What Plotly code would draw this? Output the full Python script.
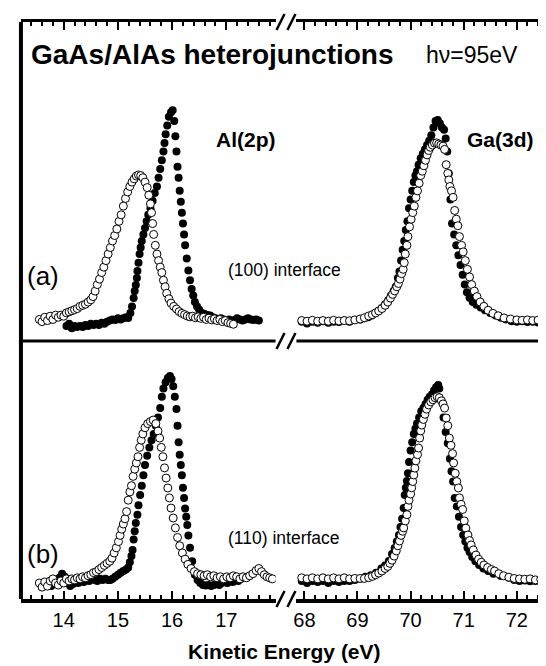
import plotly.graph_objects as go

# ---------------- data: (kinetic energy eV, normalized intensity) ----------------
AL_A_FILLED = [
    (14.05, 0.00), (14.10, 0.01), (14.15, -0.01), (14.20, 0.0), (14.25, -0.005), (14.30, 0.0),
    (14.35, -0.005), (14.40, 0.005), (14.45, 0.0), (14.50, 0.01), (14.55, 0.005), (14.60, 0.01),
    (14.65, 0.005), (14.70, 0.015), (14.75, 0.01), (14.80, 0.02), (14.85, 0.025), (14.90, 0.03),
    (14.95, 0.028), (15.00, 0.035), (15.05, 0.03), (15.10, 0.035), (15.15, 0.04), (15.19, 0.037),
    (15.23, 0.06), (15.26, 0.09), (15.29, 0.128), (15.31, 0.16), (15.33, 0.188), (15.35, 0.22),
    (15.36, 0.252), (15.38, 0.29), (15.40, 0.33), (15.42, 0.36), (15.44, 0.39), (15.47, 0.42),
    (15.50, 0.45), (15.53, 0.48), (15.56, 0.51), (15.60, 0.54), (15.64, 0.575), (15.68, 0.61),
    (15.72, 0.64), (15.75, 0.68), (15.78, 0.72), (15.81, 0.76), (15.84, 0.80), (15.86, 0.84),
    (15.88, 0.88), (15.91, 0.92), (15.94, 0.96), (15.98, 0.98), (16.01, 0.99), (16.04, 0.94),
    (16.06, 0.87), (16.08, 0.80), (16.10, 0.73), (16.12, 0.68), (16.14, 0.62), (16.16, 0.57),
    (16.18, 0.52), (16.20, 0.47), (16.22, 0.42), (16.24, 0.37), (16.27, 0.31), (16.30, 0.255),
    (16.33, 0.21), (16.36, 0.17), (16.39, 0.14), (16.42, 0.11), (16.46, 0.09), (16.50, 0.075),
    (16.55, 0.06), (16.60, 0.055), (16.65, 0.05), (16.70, 0.048), (16.75, 0.04), (16.80, 0.035),
    (16.85, 0.03), (16.90, 0.035), (16.95, 0.03), (17.00, 0.025), (17.05, 0.03), (17.10, 0.02),
    (17.15, 0.028), (17.20, 0.035), (17.25, 0.03), (17.30, 0.025), (17.35, 0.03), (17.40, 0.035),
    (17.45, 0.03), (17.50, 0.028), (17.55, 0.03), (17.60, 0.025),
]
AL_A_OPEN = [
    (13.55, 0.03), (13.60, 0.02), (13.65, 0.04), (13.70, 0.025), (13.75, 0.045), (13.80, 0.03),
    (13.85, 0.05), (13.90, 0.04), (13.95, 0.05), (14.00, 0.045), (14.05, 0.06), (14.10, 0.065),
    (14.15, 0.07), (14.20, 0.075), (14.25, 0.08), (14.30, 0.09), (14.35, 0.095), (14.40, 0.10),
    (14.45, 0.11), (14.50, 0.12), (14.54, 0.135), (14.58, 0.16), (14.62, 0.19), (14.66, 0.215),
    (14.70, 0.245), (14.74, 0.27), (14.78, 0.30), (14.82, 0.33), (14.86, 0.36), (14.90, 0.39),
    (14.94, 0.415), (14.98, 0.445), (15.02, 0.48), (15.06, 0.51), (15.10, 0.55), (15.14, 0.585),
    (15.18, 0.615), (15.22, 0.64), (15.26, 0.66), (15.30, 0.675), (15.34, 0.688), (15.38, 0.693),
    (15.42, 0.69), (15.46, 0.68), (15.50, 0.66), (15.54, 0.635), (15.57, 0.60), (15.60, 0.56),
    (15.62, 0.52), (15.64, 0.47), (15.66, 0.42), (15.69, 0.37), (15.72, 0.33), (15.75, 0.30),
    (15.78, 0.27), (15.81, 0.245), (15.84, 0.21), (15.87, 0.18), (15.90, 0.15), (15.94, 0.125),
    (15.98, 0.105), (16.03, 0.09), (16.08, 0.078), (16.13, 0.066), (16.18, 0.058), (16.23, 0.052),
    (16.28, 0.046), (16.33, 0.042), (16.38, 0.045), (16.43, 0.038), (16.48, 0.042), (16.53, 0.035),
    (16.58, 0.04), (16.63, 0.03), (16.68, 0.036), (16.73, 0.028), (16.78, 0.033), (16.83, 0.025),
    (16.88, 0.03), (16.93, 0.02), (16.98, 0.025), (17.03, 0.015), (17.08, 0.012), (17.13, 0.008),
]
GA_A_FILLED = [
    (67.95, 0.02), (68.05, 0.012), (68.15, 0.02), (68.25, 0.015), (68.35, 0.022), (68.45, 0.015),
    (68.55, 0.02), (68.65, 0.018), (68.75, 0.025), (68.85, 0.02), (68.95, 0.028), (69.05, 0.03),
    (69.13, 0.035), (69.20, 0.04), (69.27, 0.048), (69.34, 0.06), (69.40, 0.07), (69.46, 0.083),
    (69.52, 0.10), (69.58, 0.118), (69.63, 0.14), (69.68, 0.16), (69.72, 0.18), (69.76, 0.22),
    (69.79, 0.25), (69.82, 0.30), (69.85, 0.35), (69.88, 0.39), (69.91, 0.44), (69.94, 0.48),
    (69.97, 0.54), (70.00, 0.58), (70.03, 0.62), (70.06, 0.66), (70.09, 0.69), (70.12, 0.71),
    (70.15, 0.74), (70.19, 0.77), (70.23, 0.79), (70.27, 0.81), (70.31, 0.83), (70.35, 0.85),
    (70.39, 0.875), (70.43, 0.91), (70.47, 0.94), (70.51, 0.945), (70.55, 0.93), (70.59, 0.91),
    (70.63, 0.90), (70.66, 0.86), (70.69, 0.80), (70.72, 0.70), (70.75, 0.58), (70.78, 0.47),
    (70.82, 0.42), (70.86, 0.37), (70.90, 0.325), (70.94, 0.28), (70.98, 0.235), (71.02, 0.19),
    (71.06, 0.155), (71.11, 0.13), (71.17, 0.11), (71.24, 0.098), (71.32, 0.085), (71.40, 0.072),
    (71.50, 0.06), (71.60, 0.048), (71.70, 0.038), (71.80, 0.03), (71.90, 0.022), (72.00, 0.02),
    (72.10, 0.022), (72.20, 0.018), (72.30, 0.02), (72.40, 0.016), (72.50, 0.018), (72.60, 0.015),
    (72.69, 0.016),
]
GA_A_OPEN = [
    (67.95, 0.025), (68.05, 0.022), (68.15, 0.026), (68.25, 0.022), (68.35, 0.025), (68.45, 0.022),
    (68.55, 0.026), (68.65, 0.023), (68.75, 0.025), (68.85, 0.024), (68.95, 0.028), (69.05, 0.032),
    (69.13, 0.038), (69.21, 0.046), (69.28, 0.052), (69.34, 0.06), (69.40, 0.069), (69.46, 0.08),
    (69.52, 0.095), (69.57, 0.11), (69.62, 0.128), (69.66, 0.145), (69.70, 0.161), (69.74, 0.18),
    (69.77, 0.195), (69.80, 0.215), (69.83, 0.24), (69.86, 0.26), (69.88, 0.29), (69.90, 0.33),
    (69.93, 0.37), (69.95, 0.41), (69.98, 0.455), (70.01, 0.49), (70.04, 0.52), (70.07, 0.55),
    (70.10, 0.59), (70.13, 0.62), (70.16, 0.655), (70.19, 0.69), (70.22, 0.71), (70.25, 0.735),
    (70.28, 0.76), (70.31, 0.785), (70.34, 0.805), (70.37, 0.82), (70.41, 0.83), (70.45, 0.839),
    (70.49, 0.84), (70.53, 0.835), (70.57, 0.83), (70.61, 0.825), (70.64, 0.81), (70.67, 0.74),
    (70.70, 0.70), (70.72, 0.67), (70.74, 0.64), (70.77, 0.62), (70.80, 0.59), (70.83, 0.53),
    (70.86, 0.49), (70.89, 0.46), (70.92, 0.41), (70.96, 0.37), (70.99, 0.34), (71.03, 0.30),
    (71.07, 0.26), (71.11, 0.225), (71.15, 0.19), (71.20, 0.16), (71.25, 0.135), (71.31, 0.11),
    (71.38, 0.09), (71.46, 0.072), (71.55, 0.058), (71.65, 0.047), (71.76, 0.037), (71.88, 0.032),
    (72.00, 0.028), (72.10, 0.026), (72.20, 0.028), (72.30, 0.025), (72.40, 0.027), (72.50, 0.024),
    (72.60, 0.026), (72.69, 0.024),
]
AL_B_FILLED = [
    (13.72, 0.0), (13.77, -0.015), (13.82, 0.0), (13.87, 0.01), (13.92, 0.025), (13.97, 0.045),
    (14.02, 0.03), (14.07, 0.0), (14.12, -0.015), (14.17, -0.005), (14.22, 0.005), (14.27, 0.0),
    (14.32, 0.01), (14.37, 0.005), (14.42, 0.015), (14.47, 0.01), (14.52, 0.02), (14.57, 0.015),
    (14.62, 0.01), (14.67, 0.02), (14.72, 0.015), (14.77, 0.02), (14.82, 0.015), (14.86, 0.015),
    (14.90, 0.02), (14.95, 0.03), (15.00, 0.04), (15.05, 0.05), (15.10, 0.058), (15.15, 0.065),
    (15.19, 0.075), (15.22, 0.10), (15.25, 0.13), (15.27, 0.16), (15.29, 0.21), (15.31, 0.25),
    (15.33, 0.29), (15.36, 0.33), (15.38, 0.375), (15.41, 0.425), (15.44, 0.47), (15.47, 0.52),
    (15.50, 0.57), (15.54, 0.615), (15.58, 0.655), (15.62, 0.69), (15.66, 0.72), (15.70, 0.76),
    (15.74, 0.80), (15.78, 0.845), (15.81, 0.90), (15.84, 0.94), (15.88, 0.97), (15.92, 0.99),
    (15.96, 1.0), (15.99, 0.985), (16.02, 0.95), (16.05, 0.90), (16.08, 0.84), (16.10, 0.76),
    (16.12, 0.68), (16.14, 0.62), (16.16, 0.57), (16.18, 0.52), (16.20, 0.46), (16.22, 0.41),
    (16.24, 0.36), (16.26, 0.32), (16.28, 0.28), (16.30, 0.23), (16.33, 0.17), (16.37, 0.105),
    (16.42, 0.04), (16.47, 0.015), (16.52, 0.0), (16.57, -0.01), (16.62, -0.012), (16.67, -0.01),
    (16.72, -0.015), (16.77, -0.01), (16.82, -0.005), (16.87, -0.01), (16.92, 0.0), (16.97, 0.005),
    (17.02, 0.0), (17.07, 0.01), (17.12, 0.005), (17.17, 0.015), (17.22, 0.01), (17.27, 0.02),
]
AL_B_OPEN = [
    (13.55, 0.0), (13.60, -0.02), (13.65, 0.005), (13.70, -0.015), (13.75, 0.01), (13.80, 0.02),
    (13.85, 0.0), (13.90, -0.01), (13.95, 0.01), (14.00, 0.0), (14.05, 0.02), (14.10, 0.01),
    (14.15, 0.02), (14.20, 0.015), (14.25, 0.025), (14.30, 0.02), (14.35, 0.03), (14.40, 0.025),
    (14.45, 0.035), (14.50, 0.04), (14.55, 0.05), (14.60, 0.055), (14.65, 0.065), (14.70, 0.075),
    (14.75, 0.085), (14.80, 0.095), (14.85, 0.105), (14.89, 0.12), (14.93, 0.145), (14.97, 0.17),
    (15.01, 0.20), (15.04, 0.23), (15.07, 0.26), (15.10, 0.285), (15.13, 0.31), (15.16, 0.345),
    (15.19, 0.40), (15.22, 0.44), (15.25, 0.47), (15.28, 0.515), (15.31, 0.55), (15.34, 0.58),
    (15.37, 0.61), (15.40, 0.655), (15.43, 0.69), (15.46, 0.72), (15.50, 0.75), (15.55, 0.77),
    (15.60, 0.78), (15.65, 0.787), (15.70, 0.77), (15.74, 0.734), (15.77, 0.70), (15.80, 0.655),
    (15.83, 0.61), (15.86, 0.556), (15.89, 0.507), (15.92, 0.459), (15.95, 0.411), (15.98, 0.362),
    (16.02, 0.314), (16.06, 0.266), (16.10, 0.22), (16.14, 0.18), (16.19, 0.145), (16.24, 0.115),
    (16.29, 0.09), (16.35, 0.07), (16.41, 0.055), (16.47, 0.045), (16.53, 0.04), (16.59, 0.035),
    (16.65, 0.04), (16.71, 0.03), (16.77, 0.035), (16.83, 0.025), (16.89, 0.03), (16.95, 0.02),
    (17.01, 0.03), (17.07, 0.025), (17.13, 0.035), (17.19, 0.03), (17.25, 0.02), (17.31, 0.03),
    (17.37, 0.025), (17.43, 0.035), (17.49, 0.045), (17.55, 0.06), (17.60, 0.07), (17.65, 0.055),
    (17.70, 0.04), (17.75, 0.03), (17.80, 0.025), (17.85, 0.02),
]
GA_B_FILLED = [
    (67.95, 0.01), (68.05, 0.0), (68.15, 0.01), (68.25, 0.005), (68.35, 0.01), (68.45, 0.0),
    (68.55, 0.01), (68.65, 0.005), (68.75, 0.01), (68.85, 0.01), (68.95, 0.015), (69.05, 0.02),
    (69.15, 0.03), (69.25, 0.038), (69.35, 0.05), (69.45, 0.07), (69.52, 0.085), (69.59, 0.106),
    (69.65, 0.14), (69.70, 0.169), (69.74, 0.20), (69.78, 0.232), (69.81, 0.27), (69.84, 0.31),
    (69.87, 0.362), (69.89, 0.425), (69.91, 0.46), (69.93, 0.493), (69.95, 0.53), (69.97, 0.585),
    (70.00, 0.64), (70.03, 0.68), (70.06, 0.72), (70.09, 0.745), (70.12, 0.77), (70.16, 0.80),
    (70.20, 0.83), (70.24, 0.845), (70.28, 0.865), (70.32, 0.885), (70.36, 0.90), (70.40, 0.91),
    (70.44, 0.93), (70.48, 0.945), (70.52, 0.957), (70.54, 0.94), (70.58, 0.88), (70.62, 0.80),
    (70.66, 0.73), (70.70, 0.675), (70.74, 0.60), (70.77, 0.54), (70.80, 0.49), (70.83, 0.41),
    (70.87, 0.37), (70.91, 0.32), (70.95, 0.27), (70.99, 0.232), (71.03, 0.20), (71.07, 0.17),
    (71.11, 0.15), (71.16, 0.125), (71.22, 0.105), (71.29, 0.087), (71.37, 0.07), (71.46, 0.058),
    (71.56, 0.045), (71.70, 0.034), (71.85, 0.025), (71.95, 0.015), (72.05, 0.01), (72.15, 0.012),
    (72.25, 0.008), (72.35, 0.01), (72.45, 0.006), (72.55, 0.01), (72.65, 0.008), (72.69, 0.01),
]
GA_B_OPEN = [
    (67.95, 0.025), (68.05, 0.02), (68.15, 0.025), (68.25, 0.02), (68.35, 0.025), (68.45, 0.02),
    (68.55, 0.025), (68.65, 0.02), (68.75, 0.025), (68.85, 0.02), (68.95, 0.022), (69.05, 0.022),
    (69.13, 0.022), (69.21, 0.026), (69.28, 0.032), (69.34, 0.04), (69.40, 0.048), (69.46, 0.058),
    (69.52, 0.07), (69.57, 0.08), (69.61, 0.095), (69.65, 0.11), (69.69, 0.13), (69.73, 0.155),
    (69.76, 0.18), (69.79, 0.203), (69.82, 0.23), (69.85, 0.25), (69.87, 0.266), (69.90, 0.30),
    (69.93, 0.33), (69.95, 0.37), (69.97, 0.40), (70.00, 0.43), (70.02, 0.46), (70.04, 0.49),
    (70.06, 0.522), (70.08, 0.555), (70.10, 0.59), (70.13, 0.62), (70.15, 0.652), (70.17, 0.70),
    (70.19, 0.735), (70.21, 0.763), (70.24, 0.79), (70.27, 0.815), (70.30, 0.84), (70.34, 0.86),
    (70.38, 0.875), (70.42, 0.885), (70.46, 0.895), (70.50, 0.90), (70.54, 0.895), (70.58, 0.88),
    (70.61, 0.865), (70.64, 0.845), (70.67, 0.797), (70.70, 0.76), (70.73, 0.70), (70.76, 0.665),
    (70.79, 0.625), (70.81, 0.58), (70.84, 0.53), (70.87, 0.49), (70.90, 0.459), (70.92, 0.411),
    (70.95, 0.38), (70.98, 0.355), (71.01, 0.30), (71.04, 0.265), (71.08, 0.232), (71.11, 0.205),
    (71.14, 0.184), (71.18, 0.16), (71.23, 0.135), (71.28, 0.115), (71.33, 0.10), (71.38, 0.087),
    (71.45, 0.075), (71.52, 0.065), (71.58, 0.058), (71.66, 0.045), (71.75, 0.035), (71.85, 0.028),
    (71.95, 0.022), (72.05, 0.02), (72.15, 0.018), (72.25, 0.02), (72.35, 0.015), (72.45, 0.018),
    (72.55, 0.015), (72.65, 0.018), (72.69, 0.015),
]

LEFT_TICKS = [14, 15, 16, 17]
RIGHT_TICKS = [68, 69, 70, 71, 72]

# ---------------- layout geometry (pixels) ----------------
W, H = 546, 666
def px(x):
    return x / W
def py(y):
    return 1 - y / H

FONT = "Liberation Sans, Arial, Helvetica, sans-serif"
X_LEFT_DOM = [px(10), px(266)]
X_RIGHT_DOM = [px(287), 1.0]
X_LEFT_RANGE = [13.211, 17.908]
X_RIGHT_RANGE = [67.850, 72.700]
Y_A_DOM = [py(333), py(14)]
Y_B_DOM = [py(591), py(333)]
Y_A_RANGE = [-0.0688, 1.3945]
Y_B_RANGE = [-0.0773, 1.169]

fig = go.Figure()

def add_pair(filled, opened, xa, ya):
    fx, fy = zip(*filled)
    fig.add_trace(go.Scatter(x=fx, y=fy, xaxis=xa, yaxis=ya, mode="markers",
                             marker=dict(size=8, color="black", line=dict(width=0)),
                             showlegend=False, hoverinfo="skip"))
    ox, oy = zip(*opened)
    fig.add_trace(go.Scatter(x=ox, y=oy, xaxis=xa, yaxis=ya, mode="markers",
                             marker=dict(size=8, color="white", line=dict(width=1, color="black")),
                             showlegend=False, hoverinfo="skip"))

add_pair(AL_A_FILLED, AL_A_OPEN, "x", "y")
add_pair(GA_A_FILLED, GA_A_OPEN, "x2", "y")
add_pair(AL_B_FILLED, AL_B_OPEN, "x3", "y2")
add_pair(GA_B_FILLED, GA_B_OPEN, "x4", "y2")

def xaxis_common(dom, rng, tick0, side, anchor, labels, lw, tickvals):
    return dict(domain=dom, range=rng, anchor=anchor, side=side,
                showline=True, linecolor="black", linewidth=lw,
                showgrid=False, zeroline=False,
                ticks="inside", ticklen=8, tickwidth=2, tickcolor="black",
                tickmode="array", tickvals=tickvals,
                minor=dict(ticks="inside", ticklen=4, tickwidth=2, tickcolor="black",
                           dtick=0.2, tick0=tick0, showgrid=False),
                showticklabels=labels,
                tickfont=dict(family=FONT, size=20, color="black"))

fig.update_layout(
    width=W, height=H,
    margin=dict(l=0, r=0, t=0, b=0),
    paper_bgcolor="white", plot_bgcolor="rgba(0,0,0,0)",
    xaxis=xaxis_common(X_LEFT_DOM, X_LEFT_RANGE, 14, "top", "y", False, 3, LEFT_TICKS),
    xaxis2=xaxis_common(X_RIGHT_DOM, X_RIGHT_RANGE, 68, "top", "y", False, 3, RIGHT_TICKS),
    xaxis3=xaxis_common(X_LEFT_DOM, X_LEFT_RANGE, 14, "bottom", "y2", True, 4, LEFT_TICKS),
    xaxis4=xaxis_common(X_RIGHT_DOM, X_RIGHT_RANGE, 68, "bottom", "y2", True, 4, RIGHT_TICKS),
    yaxis=dict(domain=Y_A_DOM, range=Y_A_RANGE, anchor="x", visible=False),
    yaxis2=dict(domain=Y_B_DOM, range=Y_B_RANGE, anchor="x3", visible=False),
)

# frame: left border and middle divider
shapes = [
    dict(type="line", xref="paper", yref="paper", x0=px(10), x1=px(10), y0=py(14), y1=py(591),
         line=dict(color="black", width=4)),
    dict(type="line", xref="paper", yref="paper", x0=px(8), x1=px(266), y0=py(333), y1=py(333),
         line=dict(color="black", width=3)),
    dict(type="line", xref="paper", yref="paper", x0=px(287), x1=1.0, y0=py(333), y1=py(333),
         line=dict(color="black", width=3)),
]
# axis break marks "//"
for yc in (14, 333, 591):
    for xc in (271, 282):
        shapes.append(dict(type="line", xref="paper", yref="paper",
                           x0=px(xc - 4), x1=px(xc + 4), y0=py(yc + 8), y1=py(yc - 8),
                           line=dict(color="black", width=2.5)))
fig.update_layout(shapes=shapes)

def note(text, x, y, size, bold=False, xanchor="left"):
    fig.add_annotation(text=("<b>%s</b>" % text) if bold else text, xref="paper", yref="paper",
                       x=px(x), y=py(y), xanchor=xanchor, yanchor="middle", showarrow=False,
                       font=dict(family=FONT, size=size, color="black"))

note("GaAs/AlAs heterojunctions", 18, 46, 28, bold=True)
note("hν=95eV", 512, 47, 23, xanchor="right")
note("Al(2p)", 204, 131, 21, bold=True)
note("Ga(3d)", 457, 131, 21, bold=True)
note("(a)", 14, 268, 26)
note("(b)", 14, 546, 26)
note("(100) interface", 216, 262, 17.5)
note("(110) interface", 216, 530, 17.5)
note("Kinetic Energy (eV)", 275, 643, 21, bold=True, xanchor="center")

fig.write_html("out.html")
